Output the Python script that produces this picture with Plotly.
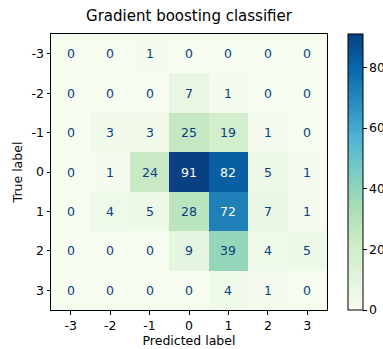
import plotly.graph_objects as go

labels = [-3, -2, -1, 0, 1, 2, 3]
matrix = [
    [0, 0, 1, 0, 0, 0, 0],
    [0, 0, 0, 7, 1, 0, 0],
    [0, 3, 3, 25, 19, 1, 0],
    [0, 1, 24, 91, 82, 5, 1],
    [0, 4, 5, 28, 72, 7, 1],
    [0, 0, 0, 9, 39, 4, 5],
    [0, 0, 0, 0, 4, 1, 0],
]
title = "Gradient boosting classifier"
colorbar_ticks = [0, 20, 40, 60, 80]

zmax = max(max(r) for r in matrix)
zmin = min(min(r) for r in matrix)
thresh = (zmax + zmin) / 2.0

FS = 12.5

fig = go.Figure()
fig.add_trace(go.Heatmap(
    z=matrix, x=labels, y=labels,
    colorscale="GnBu", zmin=zmin, zmax=zmax,
    showscale=True,
    colorbar=dict(
        x=1.076, xanchor="left", xref="paper",
        y=0.5, yanchor="middle", len=1.0, lenmode="fraction",
        thickness=14.5, outlinewidth=1, outlinecolor="black",
        tickvals=colorbar_ticks, ticks="outside", ticklen=3.5,
        tickcolor="black", tickfont=dict(family="DejaVu Sans", size=FS, color="black"),
        xpad=0, ypad=0,
    ),
    hoverinfo="skip",
))

annotations = []
for i, yv in enumerate(labels):
    for j, xv in enumerate(labels):
        v = matrix[i][j]
        color = "#f7fcf0" if v > thresh else "#084081"
        annotations.append(dict(
            x=xv, y=yv, text=str(v), showarrow=False, xref="x", yref="y",
            font=dict(family="DejaVu Sans", size=FS, color=color),
        ))

fig.update_layout(
    width=383, height=349,
    margin=dict(l=51, r=56, t=34, b=39, autoexpand=False),
    paper_bgcolor="white", plot_bgcolor="white",
    annotations=annotations,
    title=dict(text=title, x=0.5, xref="paper", xanchor="center",
               y=1, yref="container", yanchor="top", pad=dict(t=10),
               font=dict(family="DejaVu Sans", size=15, color="black")),
    font=dict(family="DejaVu Sans", size=FS, color="black"),
)
fig.update_xaxes(
    tickvals=labels, ticktext=[str(l) for l in labels], range=[-3.5, 3.5],
    showline=True, linecolor="black", linewidth=1, mirror=True,
    ticks="outside", ticklen=3.5, tickcolor="black", showgrid=False, zeroline=False,
    title=dict(text="Predicted label", standoff=3, font=dict(size=FS)),
    automargin=False,
)
fig.update_yaxes(
    tickvals=labels, ticktext=[str(l) for l in labels], range=[3.5, -3.5],
    showline=True, linecolor="black", linewidth=1, mirror=True,
    ticks="outside", ticklen=3.5, tickcolor="black", showgrid=False, zeroline=False,
    title=dict(text="True label", standoff=6, font=dict(size=FS)),
    automargin=False,
)

fig.write_html("out.html")
